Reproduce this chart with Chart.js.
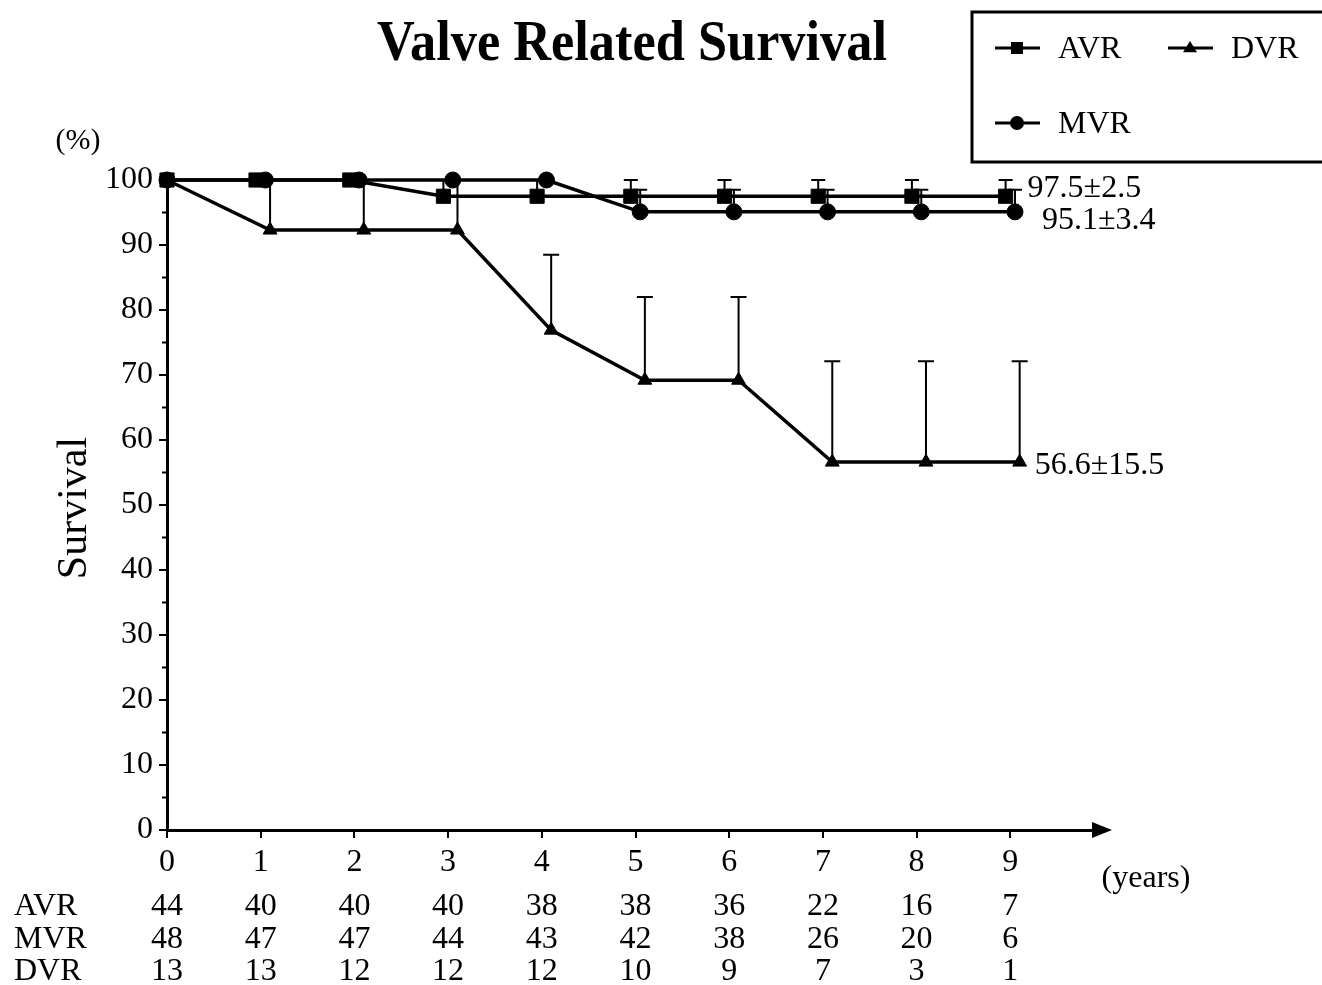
<!DOCTYPE html>
<html>
<head>
<meta charset="utf-8">
<script src="https://cdn.jsdelivr.net/npm/chart.js@4/dist/chart.umd.min.js"></script>
<style>
  html, body { margin: 0; padding: 0; background: #fff; }
  #wrap { width: 1322px; height: 985px; }
</style>
</head>
<body>
<div id="wrap"><canvas id="canvas" width="1322" height="985"></canvas></div>
<script>
//****DATA****//

var years = [0, 1, 2, 3, 4, 5, 6, 7, 8, 9];
var groups = ['AVR', 'MVR', 'DVR'];

var avrTimes = [0, 0.95, 1.95, 2.95, 3.95, 4.95, 5.95, 6.95, 7.95, 8.95];
var avrSurvival = [100, 100, 100, 97.5, 97.5, 97.5, 97.5, 97.5, 97.5, 97.5];
var avrError = [0, 0, 0, 2.5, 2.5, 2.5, 2.5, 2.5, 2.5, 2.5];

var mvrTimes = [0, 1.05, 2.05, 3.05, 4.05, 5.05, 6.05, 7.05, 8.05, 9.05];
var mvrSurvival = [100, 100, 100, 100, 100, 95.1, 95.1, 95.1, 95.1, 95.1];
var mvrError = [0, 0, 0, 0, 0, 3.4, 3.4, 3.4, 3.4, 3.4];

var dvrTimes = [0, 1.1, 2.1, 3.1, 4.1, 5.1, 6.1, 7.1, 8.1, 9.1];
var dvrSurvival = [100, 92.3, 92.3, 92.3, 76.9, 69.2, 69.2, 56.6, 56.6, 56.6];
var dvrError = [0, 7.7, 7.7, 7.7, 11.6, 12.8, 12.8, 15.5, 15.5, 15.5];

var atRiskAVR = [44, 40, 40, 40, 38, 38, 36, 22, 16, 7];
var atRiskMVR = [48, 47, 47, 44, 43, 42, 38, 26, 20, 6];
var atRiskDVR = [13, 13, 12, 12, 12, 10, 9, 7, 3, 1];

var finalLabels = ['97.5±2.5', '95.1±3.4', '56.6±15.5'];

//****HELPERS****//

var serif = '"Liberation Serif", "Times New Roman", serif';
Chart.defaults.font.family = serif;
Chart.defaults.color = '#000';

function seriesPoints(times, values) {
  return times.map(function (t, i) { return { x: t, y: values[i] }; });
}

var errorSets = [
  { times: avrTimes, values: avrSurvival, err: avrError, cap: 7 },
  { times: mvrTimes, values: mvrSurvival, err: mvrError, cap: 7 },
  { times: dvrTimes, values: dvrSurvival, err: dvrError, cap: 8 }
];

function marker(ctx, style, cx, cy, r) {
  ctx.beginPath();
  if (style === 'rect') {
    ctx.rect(cx - r, cy - r, r * 2, r * 2);
  } else if (style === 'circle') {
    ctx.arc(cx, cy, r, 0, Math.PI * 2);
  } else {
    ctx.moveTo(cx, cy - r);
    ctx.lineTo(cx + r, cy + r * 0.6);
    ctx.lineTo(cx - r, cy + r * 0.6);
    ctx.closePath();
  }
  ctx.fill();
}

//****PLUGIN****//

var decorPlugin = {
  id: 'decor',

  beforeDatasetsDraw: function (chart) {
    var ctx = chart.ctx, xs = chart.scales.x, ys = chart.scales.y;
    ctx.save();
    ctx.strokeStyle = '#000';
    ctx.lineWidth = 2;
    errorSets.forEach(function (s) {
      for (var i = 0; i < s.times.length; i++) {
        if (!s.err[i]) continue;
        var px = xs.getPixelForValue(s.times[i]);
        var y0 = ys.getPixelForValue(s.values[i]);
        var y1 = ys.getPixelForValue(s.values[i] + s.err[i]);
        ctx.beginPath();
        ctx.moveTo(px, y0);
        ctx.lineTo(px, y1);
        ctx.moveTo(px - s.cap, y1);
        ctx.lineTo(px + s.cap, y1);
        ctx.stroke();
      }
    });
    ctx.restore();
  },

  afterDraw: function (chart) {
    var ctx = chart.ctx, xs = chart.scales.x, ys = chart.scales.y;
    var area = chart.chartArea;
    ctx.save();
    ctx.fillStyle = '#000';
    ctx.strokeStyle = '#000';

    // minor ticks on y axis
    ctx.lineWidth = 2;
    for (var v = 5; v < 100; v += 10) {
      var py = ys.getPixelForValue(v);
      ctx.beginPath();
      ctx.moveTo(area.left - 5, py);
      ctx.lineTo(area.left, py);
      ctx.stroke();
    }

    // arrow head on x axis
    ctx.beginPath();
    ctx.moveTo(area.right + 8, area.bottom);
    ctx.lineTo(area.right - 12, area.bottom - 8);
    ctx.lineTo(area.right - 12, area.bottom + 8);
    ctx.closePath();
    ctx.fill();

    // title
    ctx.save();
    ctx.font = 'bold 58px ' + serif;
    ctx.textAlign = 'center';
    ctx.textBaseline = 'middle';
    var tw = ctx.measureText('Valve Related Survival').width;
    ctx.translate(632, 45);
    ctx.scale(510 / tw, 1);
    ctx.fillText('Valve Related Survival', 0, 0);
    ctx.restore();

    // axis captions
    ctx.font = '30px ' + serif;
    ctx.textAlign = 'center';
    ctx.textBaseline = 'middle';
    ctx.fillText('(%)', 78, 141);
    ctx.font = '32px ' + serif;
    ctx.fillText('(years)', 1146, 879);

    ctx.save();
    ctx.translate(75, 508);
    ctx.rotate(-Math.PI / 2);
    ctx.font = '42px ' + serif;
    ctx.fillText('Survival', 0, 0);
    ctx.restore();

    // end-point labels
    ctx.font = '32px ' + serif;
    ctx.textAlign = 'left';
    var last = years.length - 1;
    ctx.fillText(finalLabels[0], xs.getPixelForValue(avrTimes[last]) + 22, ys.getPixelForValue(avrSurvival[last]) - 8);
    ctx.fillText(finalLabels[1], xs.getPixelForValue(mvrTimes[last]) + 27, ys.getPixelForValue(mvrSurvival[last]) + 9);
    ctx.fillText(finalLabels[2], xs.getPixelForValue(dvrTimes[last]) + 15, ys.getPixelForValue(dvrSurvival[last]) + 3);

    // number at risk table
    var rows = [atRiskAVR, atRiskMVR, atRiskDVR];
    var rowY = [907, 940, 972];
    rows.forEach(function (row, r) {
      ctx.textAlign = 'left';
      ctx.fillText(groups[r], 14, rowY[r]);
      ctx.textAlign = 'center';
      row.forEach(function (n, i) {
        ctx.fillText(String(n), xs.getPixelForValue(years[i]), rowY[r]);
      });
    });

    // legend box
    ctx.lineWidth = 3;
    ctx.strokeRect(972, 12, 360, 150);
    var items = [
      { label: 'AVR', style: 'rect', x: 995, y: 48 },
      { label: 'DVR', style: 'triangle', x: 1168, y: 48 },
      { label: 'MVR', style: 'circle', x: 995, y: 123 }
    ];
    items.forEach(function (it) {
      ctx.lineWidth = 3;
      ctx.beginPath();
      ctx.moveTo(it.x, it.y);
      ctx.lineTo(it.x + 45, it.y);
      ctx.stroke();
      marker(ctx, it.style, it.x + 22, it.y, it.style === 'rect' ? 6 : 7);
      ctx.textAlign = 'left';
      ctx.fillText(it.label, it.x + 63, it.y + 2);
    });

    ctx.restore();
  }
};

//****CHART****//

var lineStyle = {
  showLine: true,
  borderColor: '#000',
  backgroundColor: '#000',
  pointBorderColor: '#000',
  pointBackgroundColor: '#000',
  borderWidth: 3.5,
  pointBorderWidth: 1,
  tension: 0,
  clip: false
};

var chart = new Chart(document.getElementById('canvas').getContext('2d'), {
  type: 'scatter',
  data: {
    datasets: [
      Object.assign({ label: 'AVR', data: seriesPoints(avrTimes, avrSurvival), pointStyle: 'rect', pointRadius: 10 }, lineStyle),
      Object.assign({ label: 'MVR', data: seriesPoints(mvrTimes, mvrSurvival), pointStyle: 'circle', pointRadius: 8 }, lineStyle),
      Object.assign({ label: 'DVR', data: seriesPoints(dvrTimes, dvrSurvival), pointStyle: 'triangle', pointRadius: 8 }, lineStyle)
    ]
  },
  options: {
    responsive: false,
    animation: false,
    events: [],
    layout: { padding: { left: 0, top: 180, right: 218, bottom: 95 } },
    plugins: {
      legend: { display: false },
      tooltip: { enabled: false },
      title: { display: false }
    },
    scales: {
      x: {
        type: 'linear',
        min: 0,
        max: 10,
        afterBuildTicks: function (scale) {
          scale.ticks = years.map(function (v) { return { value: v }; });
        },
        afterFit: function (scale) { scale.height = 60; },
        grid: { drawOnChartArea: false, drawTicks: true, tickLength: 8, color: '#000', lineWidth: 2 },
        border: { display: true, color: '#000', width: 3 },
        ticks: { color: '#000', font: { size: 32 }, padding: 5, maxRotation: 0, autoSkip: false }
      },
      y: {
        min: 0,
        max: 100,
        afterFit: function (scale) { scale.width = 167; },
        grid: { drawOnChartArea: false, drawTicks: true, tickLength: 8, color: '#000', lineWidth: 2 },
        border: { display: true, color: '#000', width: 3 },
        ticks: { stepSize: 10, color: '#000', font: { size: 32 }, padding: 6 }
      }
    }
  },
  plugins: [decorPlugin]
});
</script>
</body>
</html>
